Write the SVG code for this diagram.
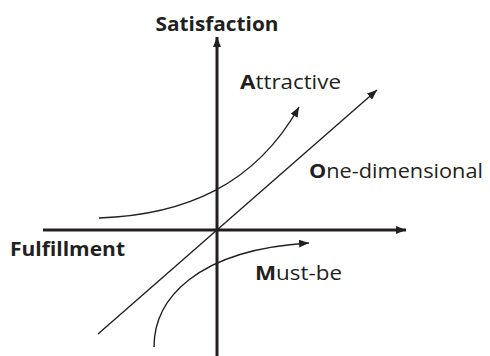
<svg xmlns="http://www.w3.org/2000/svg" width="490" height="356" viewBox="0 0 490 356">
<defs>
<style>
.axis{stroke:#231f20;stroke-width:3;fill:none}
.curve{stroke:#231f20;stroke-width:1.4;fill:none}
.lbl{font-family:"Open Sans","Liberation Sans",Arial,sans-serif;fill:#231f20}
.b{font-weight:bold}
</style>
<marker id="ah" viewBox="0 0 10 8" refX="10" refY="4" markerWidth="10" markerHeight="8" markerUnits="userSpaceOnUse" orient="auto">
<path d="M0,0 L10,4 L0,8 Z" fill="#231f20"/>
</marker>
<marker id="ahs" viewBox="0 0 10 8" refX="10" refY="4" markerWidth="10" markerHeight="8" markerUnits="userSpaceOnUse" orient="auto">
<path d="M0,0 L10,4 L0,8 Z" fill="#231f20"/>
</marker>
</defs>
<rect width="490" height="356" fill="#ffffff"/>
<g id="connectors">
<line class="axis" x1="217" y1="356" x2="217" y2="37" marker-end="url(#ah)"/>
<line class="axis" x1="43" y1="230" x2="406" y2="230" marker-end="url(#ah)"/>
<line class="curve" x1="98" y1="334" x2="377" y2="90" marker-end="url(#ahs)"/>
<path class="curve" d="M99,218 C185,215 255,185 299,107" marker-end="url(#ahs)"/>
<path class="curve" d="M154,347 C154,300 195,250 309,243" marker-end="url(#ahs)"/>
</g>
<g id="satisfaction"><text class="lbl b" x="217" y="31" font-size="20" text-anchor="middle" textLength="123" lengthAdjust="spacingAndGlyphs">Satisfaction</text></g>
<g id="fulfillment"><text class="lbl b" x="10" y="256" font-size="20" textLength="115" lengthAdjust="spacingAndGlyphs">Fulfillment</text></g>
<g id="attractive"><text class="lbl" x="240" y="89" font-size="20" textLength="101" lengthAdjust="spacingAndGlyphs"><tspan class="b">A</tspan>ttractive</text></g>
<g id="one-dimensional"><text class="lbl" x="309" y="178" font-size="20" textLength="174" lengthAdjust="spacingAndGlyphs"><tspan class="b">O</tspan>ne-dimensional</text></g>
<g id="must-be"><text class="lbl" x="255" y="280" font-size="20" textLength="87" lengthAdjust="spacingAndGlyphs"><tspan class="b">M</tspan>ust-be</text></g>
</svg>
